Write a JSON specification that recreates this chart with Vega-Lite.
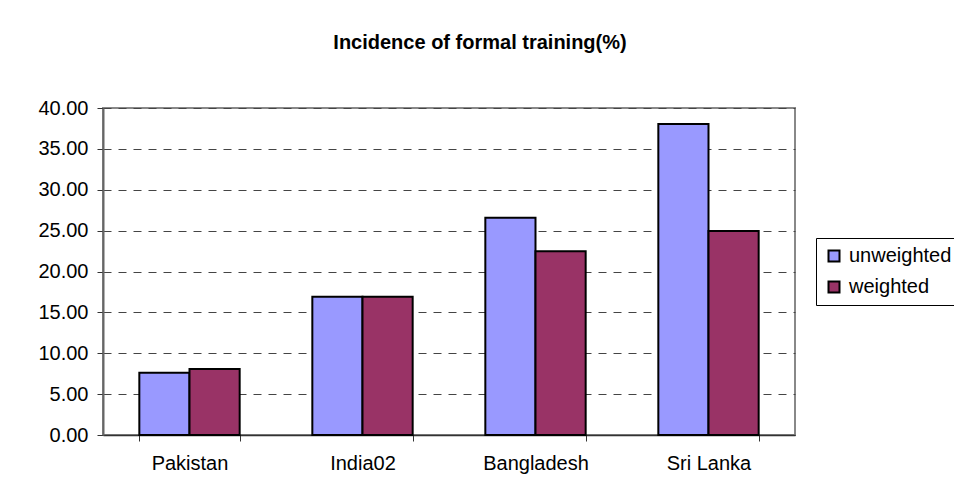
{
  "$schema": "https://vega.github.io/schema/vega-lite/v6.json",
  "width": 692,
  "height": 327,
  "autosize": {"type": "none"},
  "padding": {"left": 103, "top": 108, "right": 159, "bottom": 65},
  "background": "white",
  "title": {
    "text": "Incidence of formal training(%)",
    "font": "Liberation Sans",
    "fontSize": 20,
    "fontWeight": "bold",
    "color": "black",
    "anchor": "middle",
    "frame": "group",
    "baseline": "alphabetic",
    "dx": 31,
    "offset": 29
  },
  "data": {
    "values": [
      {"country": "Pakistan", "series": "unweighted", "value": 7.62},
      {"country": "Pakistan", "series": "weighted", "value": 8.07},
      {"country": "India02", "series": "unweighted", "value": 16.92},
      {"country": "India02", "series": "weighted", "value": 16.92},
      {"country": "Bangladesh", "series": "unweighted", "value": 26.58},
      {"country": "Bangladesh", "series": "weighted", "value": 22.47},
      {"country": "Sri Lanka", "series": "unweighted", "value": 38.04},
      {"country": "Sri Lanka", "series": "weighted", "value": 24.95}
    ]
  },
  "mark": {"type": "bar", "stroke": "black", "strokeWidth": 2},
  "encoding": {
    "x": {
      "field": "country",
      "type": "nominal",
      "sort": ["Pakistan", "India02", "Bangladesh", "Sri Lanka"],
      "scale": {"paddingInner": 0.42, "paddingOuter": 0.21},
      "axis": {
        "title": null,
        "labelAngle": 0,
        "tickBand": "extent",
        "tickSize": 6,
        "tickColor": "#333",
        "domainColor": "#333",
        "domainWidth": 1.5,
        "labelFont": "Liberation Sans",
        "labelFontSize": 20,
        "labelColor": "black",
        "labelPadding": 12
      }
    },
    "xOffset": {"field": "series", "type": "nominal", "scale": {"paddingInner": 0, "paddingOuter": 0}},
    "y": {
      "field": "value",
      "type": "quantitative",
      "scale": {"domain": [0, 40], "nice": false},
      "axis": {
        "title": null,
        "values": [0, 5, 10, 15, 20, 25, 30, 35, 40],
        "format": ".2f",
        "grid": true,
        "gridDash": [8, 7],
        "gridColor": "#444",
        "gridWidth": 1,
        "tickSize": 6,
        "tickColor": "#333",
        "domainColor": "#666",
        "domainWidth": 2,
        "labelFont": "Liberation Sans",
        "labelFontSize": 20,
        "labelColor": "black",
        "labelPadding": 9
      }
    },
    "color": {
      "field": "series",
      "type": "nominal",
      "scale": {"domain": ["unweighted", "weighted"], "range": ["#9999FF", "#993366"]},
      "legend": {
        "title": null,
        "orient": "none",
        "legendX": 713,
        "legendY": 130,
        "strokeColor": "black",
        "padding": 8,
        "symbolType": "square",
        "symbolSize": 121,
        "symbolStrokeColor": "black",
        "symbolStrokeWidth": 2,
        "symbolOpacity": 1,
        "labelFont": "Liberation Sans",
        "labelFontSize": 20,
        "labelColor": "black",
        "labelOffset": 5,
        "rowPadding": 11
      }
    }
  },
  "config": {
    "view": {"stroke": "#888", "strokeWidth": 2}
  }
}
